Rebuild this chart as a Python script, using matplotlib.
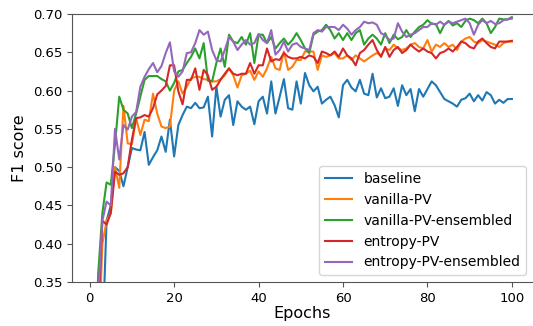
import matplotlib
matplotlib.use("Agg")
import matplotlib.pyplot as plt
import numpy as np

epochs = list(range(1, 101))

baseline = [0.15, 0.20, 0.27, 0.43, 0.45, 0.50, 0.495, 0.475, 0.50, 0.525,
            0.523, 0.522, 0.546, 0.503, 0.513, 0.522, 0.540, 0.520, 0.562, 0.514,
            0.555, 0.568, 0.579, 0.577, 0.584, 0.577, 0.578, 0.592, 0.540, 0.605,
            0.566, 0.588, 0.594, 0.555, 0.586, 0.579, 0.575, 0.579, 0.556, 0.586,
            0.592, 0.570, 0.612, 0.570, 0.592, 0.615, 0.577, 0.575, 0.612, 0.583,
            0.623, 0.607, 0.599, 0.605, 0.583, 0.588, 0.592, 0.581, 0.565, 0.607,
            0.614, 0.604, 0.599, 0.614, 0.596, 0.594, 0.622, 0.591, 0.603, 0.590,
            0.592, 0.603, 0.580, 0.607, 0.594, 0.602, 0.573, 0.602, 0.592, 0.602,
            0.612, 0.607, 0.598, 0.589, 0.586, 0.583, 0.579, 0.588, 0.590, 0.596,
            0.586, 0.594, 0.587, 0.598, 0.594, 0.583, 0.588, 0.584, 0.589, 0.589]

vanilla_pv = [0.15, 0.25, 0.40, 0.43, 0.44, 0.50, 0.473, 0.58, 0.531, 0.53,
              0.564, 0.542, 0.562, 0.56, 0.596, 0.57, 0.553, 0.551, 0.553, 0.60,
              0.612, 0.596, 0.605, 0.616, 0.618, 0.618, 0.615, 0.614, 0.612, 0.612,
              0.615, 0.620, 0.629, 0.620, 0.604, 0.620, 0.622, 0.626, 0.614, 0.625,
              0.618, 0.629, 0.644, 0.629, 0.627, 0.651, 0.627, 0.631, 0.640, 0.640,
              0.651, 0.651, 0.651, 0.627, 0.646, 0.644, 0.646, 0.649, 0.642, 0.642,
              0.646, 0.640, 0.646, 0.642, 0.638, 0.642, 0.646, 0.649, 0.646, 0.655,
              0.653, 0.660, 0.655, 0.653, 0.655, 0.660, 0.662, 0.657, 0.655, 0.666,
              0.651, 0.660, 0.657, 0.662, 0.657, 0.660, 0.653, 0.664, 0.668, 0.670,
              0.664, 0.662, 0.666, 0.664, 0.662, 0.660, 0.657, 0.662, 0.664, 0.664]

vanilla_pv_ens = [0.15, 0.36, 0.44, 0.48, 0.477, 0.53, 0.592, 0.575, 0.570, 0.551,
                  0.57, 0.592, 0.614, 0.619, 0.619, 0.619, 0.615, 0.612, 0.600, 0.610,
                  0.625, 0.627, 0.636, 0.644, 0.655, 0.642, 0.662, 0.613, 0.612, 0.636,
                  0.655, 0.631, 0.673, 0.664, 0.662, 0.670, 0.660, 0.675, 0.636, 0.673,
                  0.673, 0.662, 0.670, 0.655, 0.662, 0.668, 0.660, 0.666, 0.675, 0.666,
                  0.655, 0.649, 0.673, 0.677, 0.679, 0.686, 0.679, 0.668, 0.675, 0.666,
                  0.675, 0.666, 0.675, 0.679, 0.660, 0.668, 0.673, 0.668, 0.660, 0.675,
                  0.662, 0.673, 0.667, 0.670, 0.679, 0.670, 0.677, 0.683, 0.686, 0.692,
                  0.687, 0.687, 0.675, 0.686, 0.691, 0.685, 0.688, 0.683, 0.691, 0.694,
                  0.692, 0.688, 0.694, 0.688, 0.675, 0.683, 0.694, 0.693, 0.693, 0.696]

entropy_pv = [0.15, 0.30, 0.43, 0.425, 0.44, 0.494, 0.49, 0.492, 0.50, 0.536,
              0.564, 0.565, 0.568, 0.566, 0.577, 0.595, 0.600, 0.606, 0.633, 0.633,
              0.599, 0.582, 0.614, 0.614, 0.629, 0.601, 0.627, 0.620, 0.601, 0.605,
              0.614, 0.622, 0.629, 0.622, 0.620, 0.622, 0.622, 0.636, 0.622, 0.633,
              0.633, 0.655, 0.638, 0.641, 0.640, 0.649, 0.644, 0.642, 0.642, 0.644,
              0.642, 0.646, 0.644, 0.636, 0.651, 0.649, 0.646, 0.651, 0.644, 0.655,
              0.646, 0.642, 0.633, 0.649, 0.653, 0.660, 0.666, 0.653, 0.644, 0.657,
              0.644, 0.653, 0.657, 0.649, 0.653, 0.660, 0.655, 0.651, 0.655, 0.651,
              0.649, 0.642, 0.649, 0.651, 0.655, 0.651, 0.657, 0.664, 0.662, 0.657,
              0.655, 0.664, 0.668, 0.662, 0.657, 0.655, 0.664, 0.664, 0.664, 0.665]

entropy_pv_ens = [0.15, 0.33, 0.43, 0.455, 0.45, 0.55, 0.51, 0.555, 0.549, 0.566,
                  0.572, 0.605, 0.618, 0.628, 0.636, 0.624, 0.632, 0.649, 0.663, 0.625,
                  0.618, 0.625, 0.649, 0.650, 0.662, 0.679, 0.673, 0.677, 0.653, 0.640,
                  0.638, 0.653, 0.670, 0.664, 0.653, 0.660, 0.666, 0.660, 0.662, 0.674,
                  0.666, 0.662, 0.679, 0.647, 0.653, 0.664, 0.651, 0.660, 0.662, 0.657,
                  0.655, 0.653, 0.675, 0.679, 0.677, 0.683, 0.683, 0.683, 0.679, 0.686,
                  0.681, 0.673, 0.679, 0.683, 0.690, 0.688, 0.689, 0.686, 0.675, 0.672,
                  0.666, 0.668, 0.688, 0.677, 0.670, 0.673, 0.675, 0.679, 0.683, 0.683,
                  0.688, 0.686, 0.690, 0.686, 0.690, 0.688, 0.690, 0.692, 0.694, 0.688,
                  0.673, 0.686, 0.692, 0.688, 0.691, 0.687, 0.688, 0.692, 0.693, 0.694]

series = [
    ("baseline", baseline),
    ("vanilla-PV", vanilla_pv),
    ("vanilla-PV-ensembled", vanilla_pv_ens),
    ("entropy-PV", entropy_pv),
    ("entropy-PV-ensembled", entropy_pv_ens),
]

fig = plt.figure(figsize=(5.33, 3.26), dpi=100)
ax = fig.add_axes([0.135, 0.135, 0.865, 0.822])

for name, vals in series:
    ax.plot(epochs, vals, label=name, linewidth=1.5)

ax.set_ylim(0.35, 0.70)
ax.set_xlim(-4.2, 105)
ax.set_xlabel("Epochs", fontsize=11.5, labelpad=1)
ax.set_ylabel("F1 score", fontsize=11.5)

for s in ax.spines.values():
    s.set_color("#555555")
ax.spines["right"].set_visible(False)
ax.tick_params(colors="#555555", labelcolor="black", labelsize=9.5)

ax.legend(loc="lower right", fontsize=10)

fig.savefig("out.png", dpi=100)
